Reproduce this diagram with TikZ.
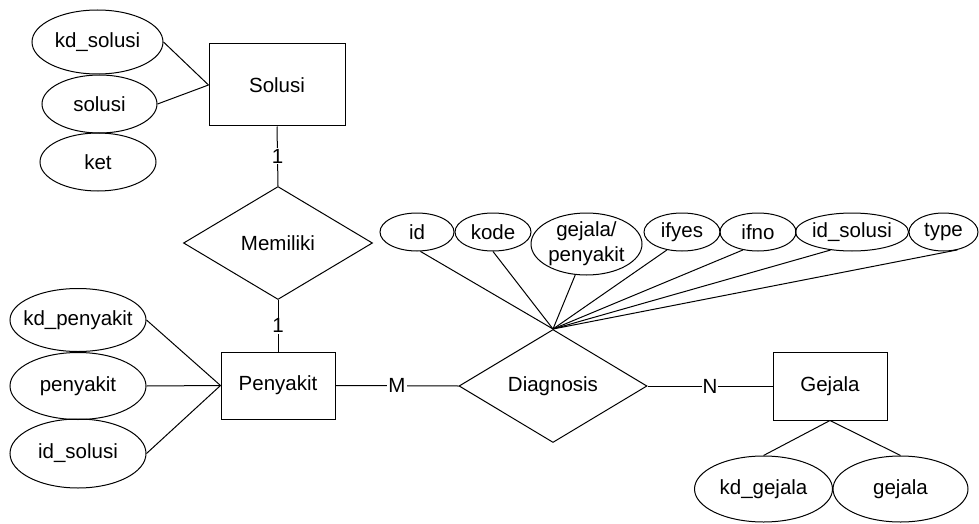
\documentclass[tikz,border=0pt]{standalone}
\usepackage{fontspec}
\setmainfont{Liberation Sans}
\usetikzlibrary{shapes.geometric}
\tikzset{
  base/.style={font=\fontsize{20.5}{23}\selectfont, line width=1pt},
  entity/.style={base, draw, rectangle, inner sep=0pt},
  relation/.style={base, draw, diamond, inner sep=0pt, aspect=1.67},
  attr/.style={base, draw, ellipse, inner sep=0pt},
  lbl/.style={font=\fontsize{20.5}{23}\selectfont, align=center, inner sep=0pt},
  card/.style={font=\fontsize{20.5}{23}\selectfont, fill=white, inner sep=1pt},
  conn/.style={line width=1pt}
}
\begin{document}
\begin{tikzpicture}[x=1pt,y=-1pt]
\useasboundingbox (0,0) rectangle (979,524);
% entities
\node[entity, minimum width=136, minimum height=82] (solusi) at (277,85) {Solusi};
\node[entity, minimum width=114, minimum height=67] (penyakit) at (278,385.5) {Penyakit};
\node[entity, minimum width=114, minimum height=68] (gejala) at (830,386) {Gejala};
% relations
\node[relation, minimum width=189, minimum height=113] (memiliki) at (278,243) {Memiliki};
\node[relation, minimum width=188, minimum height=113] (diagnosis) at (553,386) {Diagnosis};
% solusi attributes
\node[attr, minimum width=131, minimum height=64, label={[lbl]center:kd\_solusi}] (akdsolusi) at (97.5,42) {};
\node[attr, minimum width=115, minimum height=58, label={[lbl]center:solusi}] (asolusi) at (99.5,104) {};
\node[attr, minimum width=116, minimum height=58, label={[lbl]center:ket}] (aket) at (98,162) {};
% penyakit attributes
\node[attr, minimum width=136, minimum height=63, label={[lbl]center:kd\_penyakit}] (akdpenyakit) at (78,320) {};
\node[attr, minimum width=136, minimum height=67, label={[lbl]center:penyakit}] (apenyakit) at (78,386) {};
\node[attr, minimum width=136, minimum height=69, label={[lbl]center:id\_solusi}] (aidsolusip) at (78,453.5) {};
% gejala attributes
\node[attr, minimum width=138, minimum height=66, label={[lbl]center:kd\_gejala}] (akdgejala) at (763.5,489) {};
\node[attr, minimum width=135, minimum height=66, label={[lbl]center:gejala}] (agejala) at (900.5,489) {};
% diagnosis attributes
\node[attr, minimum width=74, minimum height=38, label={[lbl]center:id}] (did) at (417,232) {};
\node[attr, minimum width=76, minimum height=38, label={[lbl]center:kode}] (dkode) at (493,232) {};
\node[attr, minimum width=111, minimum height=62] (dgej) at (586.5,244) {};
\node[lbl, font=\fontsize{20.5}{25}\selectfont] (dgejtxt) at (dgej) {gejala/\\penyakit};
\node[attr, minimum width=76, minimum height=38, label={[lbl]center:ifyes}] (difyes) at (682,232) {};
\node[attr, minimum width=76, minimum height=38, label={[lbl]center:ifno}] (difno) at (758,232) {};
\node[attr, minimum width=113, minimum height=38, label={[lbl]center:id\_solusi}] (didsolusi) at (852,232) {};
\node[attr, minimum width=69, minimum height=38, label={[lbl]center:type}] (dtype) at (943.5,232) {};
% attribute connectors
\draw[conn] (akdsolusi.east) -- (solusi.west);
\draw[conn] (asolusi.east) -- (solusi.west);
\draw[conn] (akdpenyakit.east) -- (penyakit.west);
\draw[conn] (apenyakit.east) -- (penyakit.west);
\draw[conn] (aidsolusip.east) -- (penyakit.west);
\draw[conn] (gejala.south) -- (akdgejala.north);
\draw[conn] (gejala.south) -- (agejala.north);
\draw[conn] (did.-80) -- (diagnosis.north);
\draw[conn] (dkode.-90) -- (diagnosis.north);
\draw[conn] (dgej.-110) -- (diagnosis.north);
\draw[conn] (difyes.-130) -- (diagnosis.north);
\draw[conn] (difno.-130) -- (diagnosis.north);
\draw[conn] (didsolusi.-140) -- (diagnosis.north);
\draw[conn] (dtype.-52) -- (diagnosis.north);
% relationship connectors
\draw[conn] (solusi.south) -- node[card] (c1) {1} (memiliki.north);
\draw[conn] (memiliki.south) -- node[card] (c2) {1} (penyakit.north);
\draw[conn] (penyakit.east) -- node[card] (cm) {M} (diagnosis.west);
\draw[conn] (diagnosis.east) -- node[card] (cn) {N} (gejala.west);
\end{tikzpicture}
\end{document}
